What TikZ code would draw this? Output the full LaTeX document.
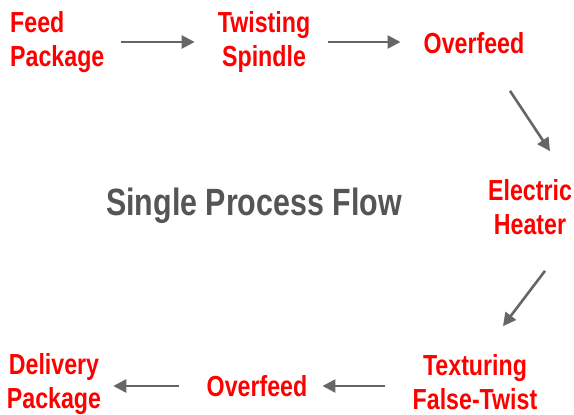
\documentclass[tikz,border=0pt]{standalone}
\usepackage{fontspec}
\setmainfont[FakeStretch=0.8]{Liberation Sans}
\usetikzlibrary{arrows.meta}
\usetikzlibrary{positioning}
\definecolor{arrowgray}{HTML}{666666}
\definecolor{titlegray}{HTML}{555555}

\begin{document}
\begin{tikzpicture}[x=1pt,y=-1pt,
    stage/.style={text=red, font=\bfseries\fontsize{29}{34}\selectfont, align=center, inner sep=0pt},
    flow/.style={-{Triangle[length=13pt,width=13pt]}, line width=2.6pt, draw=arrowgray}]
            \useasboundingbox (0,0) rectangle (574,415);

            \node[stage, align=left, anchor=west] (feed) at (10,42) {Feed\\Package};
            \node[stage] (twist) at (264,42) {Twisting\\Spindle};
            \node[stage] (ofa) at (474,43) {Overfeed};
            \node[stage] (heat) at (530,207) {Electric\\Heater};
            \node[stage] (tex) at (475,382) {Texturing\\False-Twist};
            \node[stage] (ofb) at (257,386) {Overfeed};
            \node[stage] (deliv) at (54,384) {Delivery\\Package};

            \node[text=titlegray, font=\bfseries\fontsize{38}{44}\selectfont, inner sep=0pt] (title) at (254,206) {Single Process Flow};

            \draw[flow, shorten <=16pt, shorten >=23pt] (feed.east) -- (twist.west);
            \draw[flow, shorten <=18pt, shorten >=23pt] (twist.east) -- (ofa.west |- twist.east);
            \draw[flow] ([xshift=36pt,yshift=-37pt]ofa.south) -- ([xshift=20pt,yshift=28pt]heat.north);
            \draw[flow] ([xshift=15pt,yshift=-36pt]heat.south) -- ([xshift=28pt,yshift=28pt]tex.north);
            \draw[flow, shorten <=27pt, shorten >=15pt] (tex.west |- ofb.east) -- (ofb.east);
            \draw[flow, shorten <=28pt, shorten >=12pt] (ofb.west) -- (deliv.east |- ofb.west);
        \end{tikzpicture}
\end{document}
